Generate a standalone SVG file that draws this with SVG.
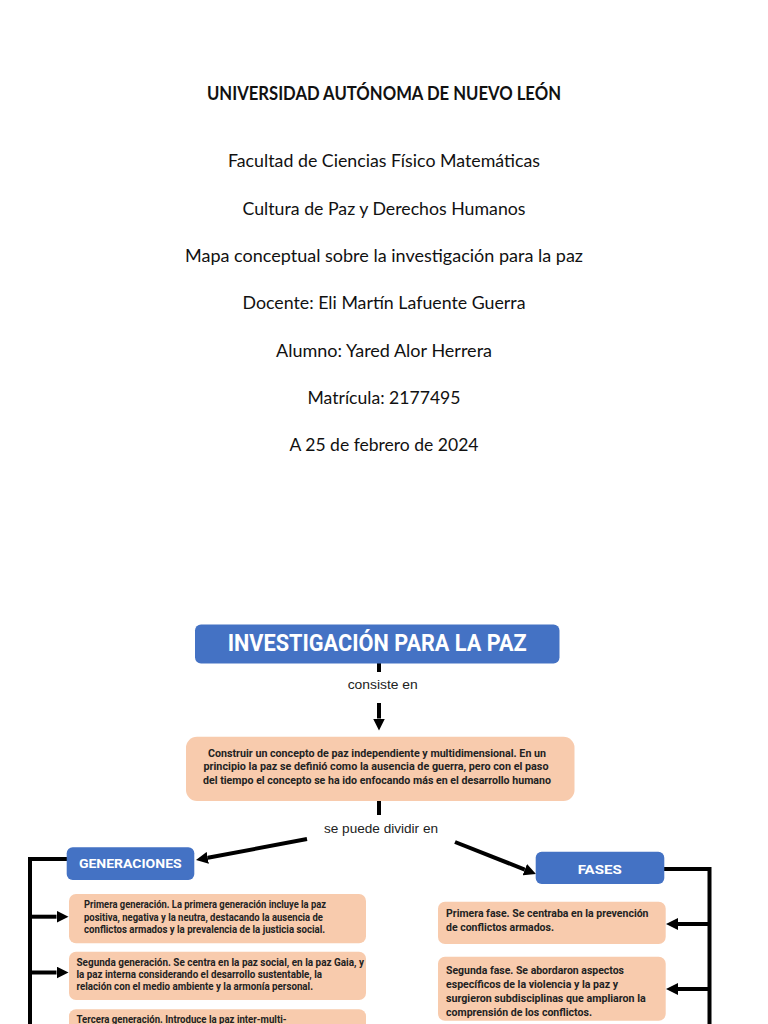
<svg xmlns="http://www.w3.org/2000/svg" width="768" height="1024" viewBox="0 0 768 1024">
<style>
.hdr{font-family:Lato,"Liberation Sans",sans-serif;font-size:18px;fill:#111;text-anchor:middle}
.hb{font-weight:700}
.blue{fill:#4472C4}
.peach{fill:#F8CBAD}
.bt{font-family:Roboto,"Liberation Sans",sans-serif;font-weight:700;fill:#fff;text-anchor:middle}
.pt{font-family:Roboto,"Liberation Sans",sans-serif;font-weight:700;fill:#222;font-size:10px}
.lbl{font-family:"Liberation Sans",Arial,sans-serif;font-size:13px;fill:#222;text-anchor:middle}
.con{fill:none;stroke:#000;stroke-width:4}
</style>
<defs>
<marker id="ah" viewBox="0 0 12 12" refX="0" refY="6" markerWidth="12" markerHeight="12" markerUnits="userSpaceOnUse" orient="auto">
<path d="M0,0 L12,6 L0,12 z" fill="#000"/>
</marker>
</defs>
<rect width="768" height="1024" fill="#fff"/>
<g id="header">
<text class="hdr hb" x="384" y="100" textLength="354" lengthAdjust="spacingAndGlyphs">UNIVERSIDAD AUTÓNOMA DE NUEVO LEÓN</text>
<text class="hdr" x="384" y="166.5" textLength="312" lengthAdjust="spacingAndGlyphs">Facultad de Ciencias Físico Matemáticas</text>
<text class="hdr" x="384" y="214.5" textLength="283" lengthAdjust="spacingAndGlyphs">Cultura de Paz y Derechos Humanos</text>
<text class="hdr" x="384" y="261.5" textLength="398" lengthAdjust="spacingAndGlyphs">Mapa conceptual sobre la investigación para la paz</text>
<text class="hdr" x="384" y="308.5" textLength="283" lengthAdjust="spacingAndGlyphs">Docente: Eli Martín Lafuente Guerra</text>
<text class="hdr" x="384" y="356.5" textLength="216" lengthAdjust="spacingAndGlyphs">Alumno: Yared Alor Herrera</text>
<text class="hdr" x="384" y="404" textLength="153" lengthAdjust="spacingAndGlyphs">Matrícula: 2177495</text>
<text class="hdr" x="384" y="451" textLength="189" lengthAdjust="spacingAndGlyphs">A 25 de febrero de 2024</text>
</g>
<g id="connectors">
<line class="con" x1="379" y1="663" x2="379" y2="672"/>
<line class="con" x1="379" y1="703" x2="379" y2="718.5" marker-end="url(#ah)"/>
<line class="con" x1="379" y1="801" x2="379" y2="815"/>
<line class="con" x1="307" y1="839" x2="207.8" y2="857.8" marker-end="url(#ah)"/>
<line class="con" x1="455" y1="842" x2="524.8" y2="869.6" marker-end="url(#ah)"/>
<polyline class="con" points="67,859 30,859 30,1030"/>
<line class="con" x1="30" y1="916.7" x2="56.5" y2="916.7" marker-end="url(#ah)"/>
<line class="con" x1="30" y1="972.5" x2="56.5" y2="972.5" marker-end="url(#ah)"/>
<polyline class="con" points="664,869 709.5,869 709.5,1030"/>
<line class="con" x1="709.5" y1="924" x2="678" y2="924" marker-end="url(#ah)"/>
<line class="con" x1="709.5" y1="989" x2="678" y2="989" marker-end="url(#ah)"/>
<text class="lbl" x="382.7" y="688.5" textLength="70" lengthAdjust="spacingAndGlyphs">consiste en</text>
<text class="lbl" x="381" y="833.3" textLength="114" lengthAdjust="spacingAndGlyphs">se puede dividir en</text>
</g>
<g id="investigacion">
<rect class="blue" x="195" y="624.5" width="364.5" height="39" rx="6"/>
<text class="bt" x="377.2" y="650.5" font-size="23" textLength="299" lengthAdjust="spacingAndGlyphs">INVESTIGACIÓN PARA LA PAZ</text>
</g>
<g id="concepto">
<rect class="peach" x="186" y="736.7" width="388.5" height="64.3" rx="11"/>
<text class="pt" x="377" y="756.6" text-anchor="middle" font-size="10.3" textLength="338" lengthAdjust="spacingAndGlyphs">Construir un concepto de paz independiente y multidimensional. En un</text>
<text class="pt" x="376" y="770" text-anchor="middle" font-size="10.3" textLength="345" lengthAdjust="spacingAndGlyphs">principio la paz se definió como la ausencia de guerra, pero con el paso</text>
<text class="pt" x="377" y="783.6" text-anchor="middle" font-size="10.3" textLength="348" lengthAdjust="spacingAndGlyphs">del tiempo el concepto se ha ido enfocando más en el desarrollo humano</text>
</g>
<g id="generaciones">
<rect class="blue" x="66.7" y="847.3" width="127.6" height="32.7" rx="6"/>
<text class="bt" x="130.3" y="868.3" font-size="13.5" textLength="102.7" lengthAdjust="spacingAndGlyphs">GENERACIONES</text>
</g>
<g id="fases">
<rect class="blue" x="535.7" y="851.7" width="128.6" height="32.3" rx="6"/>
<text class="bt" x="599.7" y="874" font-size="13.5" textLength="44" lengthAdjust="spacingAndGlyphs">FASES</text>
</g>
<g id="gen1">
<rect class="peach" x="69" y="894" width="297" height="49.3" rx="7"/>
<text class="pt" x="84" y="908" font-size="9.5" textLength="242" lengthAdjust="spacingAndGlyphs">Primera generación. La primera generación incluye la paz</text>
<text class="pt" x="84" y="920.8" font-size="9.5" textLength="239" lengthAdjust="spacingAndGlyphs">positiva, negativa y la neutra, destacando la ausencia de</text>
<text class="pt" x="84" y="933.3" font-size="9.5" textLength="241" lengthAdjust="spacingAndGlyphs">conflictos armados y la prevalencia de la justicia social.</text>
</g>
<g id="gen2">
<rect class="peach" x="69" y="951.7" width="297" height="48.3" rx="7"/>
<text class="pt" x="76.5" y="965.6" font-size="9.5" textLength="287.5" lengthAdjust="spacingAndGlyphs">Segunda generación. Se centra en la paz social, en la paz Gaia, y</text>
<text class="pt" x="76.5" y="977.8" font-size="9.5" textLength="245.5" lengthAdjust="spacingAndGlyphs">la paz interna considerando el desarrollo sustentable, la</text>
<text class="pt" x="76.5" y="990.2" font-size="9.5" textLength="236.5" lengthAdjust="spacingAndGlyphs">relación con el medio ambiente y la armonía personal.</text>
</g>
<g id="gen3">
<rect class="peach" x="69" y="1009.3" width="297" height="40" rx="7"/>
<text class="pt" x="76.5" y="1022.6" font-size="9.5" textLength="210" lengthAdjust="spacingAndGlyphs">Tercera generación. Introduce la paz inter-multi-</text>
</g>
<g id="fase1">
<rect class="peach" x="438" y="901.7" width="227.7" height="42.3" rx="7"/>
<text class="pt" x="446" y="916.6" font-size="10" textLength="202.5" lengthAdjust="spacingAndGlyphs">Primera fase. Se centraba en la prevención</text>
<text class="pt" x="446" y="930.8" font-size="10" textLength="108" lengthAdjust="spacingAndGlyphs">de conflictos armados.</text>
</g>
<g id="fase2">
<rect class="peach" x="438" y="956.7" width="227.7" height="64" rx="7"/>
<text class="pt" x="446" y="974" font-size="10" textLength="178" lengthAdjust="spacingAndGlyphs">Segunda fase. Se abordaron aspectos</text>
<text class="pt" x="446" y="987.8" font-size="10" textLength="172" lengthAdjust="spacingAndGlyphs">específicos de la violencia y la paz y</text>
<text class="pt" x="446" y="1001.8" font-size="10" textLength="199.7" lengthAdjust="spacingAndGlyphs">surgieron subdisciplinas que ampliaron la</text>
<text class="pt" x="446" y="1015.5" font-size="10" textLength="146" lengthAdjust="spacingAndGlyphs">comprensión de los conflictos.</text>
</g>
</svg>
